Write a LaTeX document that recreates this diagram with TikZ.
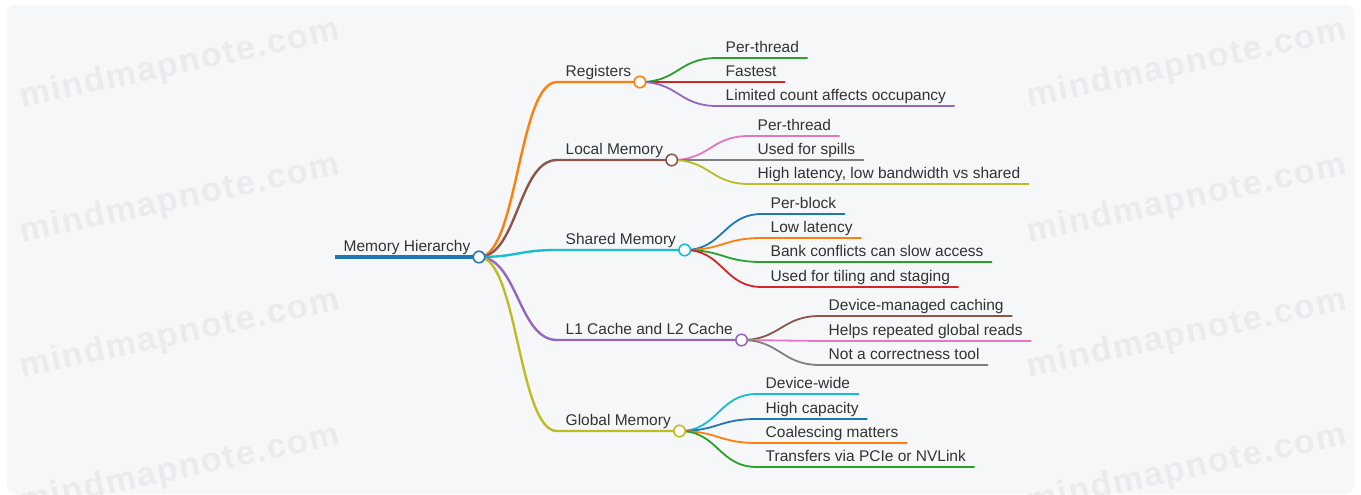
\documentclass[tikz,border=0pt]{standalone}
\usepackage{fontspec}
\setmainfont{Liberation Sans}
\newfontfamily\wmfont[LetterSpace=5]{Liberation Sans}

\definecolor{cblue}{HTML}{1F77B4}
\definecolor{corange}{HTML}{FF7F0E}
\definecolor{cgreen}{HTML}{2CA02C}
\definecolor{cred}{HTML}{D62728}
\definecolor{cpurple}{HTML}{9467BD}
\definecolor{cbrown}{HTML}{8C564B}
\definecolor{cpink}{HTML}{E377C2}
\definecolor{cgray}{HTML}{7F7F7F}
\definecolor{colive}{HTML}{BCBD22}
\definecolor{ccyan}{HTML}{17BECF}
\definecolor{ink}{HTML}{333333}
\definecolor{paper}{HTML}{F6F7F9}
\definecolor{wmgray}{HTML}{EAEBEE}

\begin{document}
\begin{tikzpicture}[x=1pt,y=-1pt,
    lbl/.style={anchor=south west, inner xsep=8.5pt, inner ysep=1pt, text height=11pt, text depth=4pt, text=ink, font=\fontsize{15.5}{18}\selectfont},
    dot/.style={circle, draw=#1, fill=white, line width=1.6pt, minimum size=11.5pt, inner sep=0pt},
    link/.style={to path={.. controls +(38.5,0) and +(-38.5,0) .. (\tikztotarget)}},
    wm/.style={text=wmgray, font=\wmfont\bfseries\fontsize{34}{40}\selectfont, rotate=12},
]
    \useasboundingbox (0,0) rectangle (1361,495);
    \fill[white] (0,0) rectangle (1361,495);
    \fill[paper, rounded corners=8pt] (7,5) rectangle (1354,494);

    % watermark
    \begin{scope}
        \clip[rounded corners=8pt] (7,5) rectangle (1354,494);
        \foreach \y in {65,200,335,470}{
            \node[wm] (wl\y) at (180,\y) {mindmapnote.com};
            \node[wm] (wr\y) at (1187,\y) {mindmapnote.com};
        }
    \end{scope}

    % root and first level
    \node[lbl] (mh) at (335,257) {Memory Hierarchy};
    \node[lbl] (reg) at (557,82) {Registers};
    \node[lbl] (loc) at (557,160) {Local Memory};
    \node[lbl] (sha) at (557,250) {Shared Memory};
    \node[lbl] (l1c) at (557,340) {L1 Cache and L2 Cache};
    \node[lbl] (glo) at (557,431) {Global Memory};

    % leaves
    \node[lbl] (reg1) at (717,58) {Per-thread};
    \node[lbl] (reg2) at (717,82) {Fastest};
    \node[lbl] (reg3) at (717,106) {Limited count affects occupancy};

    \node[lbl] (loc1) at (749,136) {Per-thread};
    \node[lbl] (loc2) at (749,160) {Used for spills};
    \node[lbl] (loc3) at (749,184) {High latency, low bandwidth vs shared};

    \node[lbl] (sha1) at (762,214) {Per-block};
    \node[lbl] (sha2) at (762,238) {Low latency};
    \node[lbl] (sha3) at (762,262) {Bank conflicts can slow access};
    \node[lbl] (sha4) at (762,287) {Used for tiling and staging};

    \node[lbl] (l1c1) at (820,316) {Device-managed caching};
    \node[lbl] (l1c2) at (820,341) {Helps repeated global reads};
    \node[lbl] (l1c3) at (820,365) {Not a correctness tool};

    \node[lbl] (glo1) at (757,394) {Device-wide};
    \node[lbl] (glo2) at (757,419) {High capacity};
    \node[lbl] (glo3) at (757,443) {Coalescing matters};
    \node[lbl] (glo4) at (757,467) {Transfers via PCIe or NVLink};

    \draw[cblue, line width=4pt] (mh.south west) -- (mh.south east);
    \foreach \n/\c in {reg/corange, loc/cbrown, sha/ccyan, l1c/cpurple, glo/colive}
        \draw[\c, line width=2.4pt] (mh.south east) to[link] (\n.south west) -- (\n.south east);

    \foreach \p/\n/\c in {reg/reg1/cgreen, reg/reg2/cred, reg/reg3/cpurple,
                          loc/loc1/cpink, loc/loc2/cgray, loc/loc3/colive,
                          sha/sha1/cblue, sha/sha2/corange, sha/sha3/cgreen, sha/sha4/cred,
                          l1c/l1c1/cbrown, l1c/l1c2/cpink, l1c/l1c3/cgray,
                          glo/glo1/ccyan, glo/glo2/cblue, glo/glo3/corange, glo/glo4/cgreen}
        \draw[\c, line width=1.8pt] (\p.south east) to[link] (\n.south west) -- (\n.south east);

    % circles on top
    \foreach \n/\c in {mh/cblue, reg/corange, loc/cbrown, sha/ccyan, l1c/cpurple, glo/colive}
        \node[dot=\c] (\n-dot) at (\n.south east) {};

\end{tikzpicture}
\end{document}
